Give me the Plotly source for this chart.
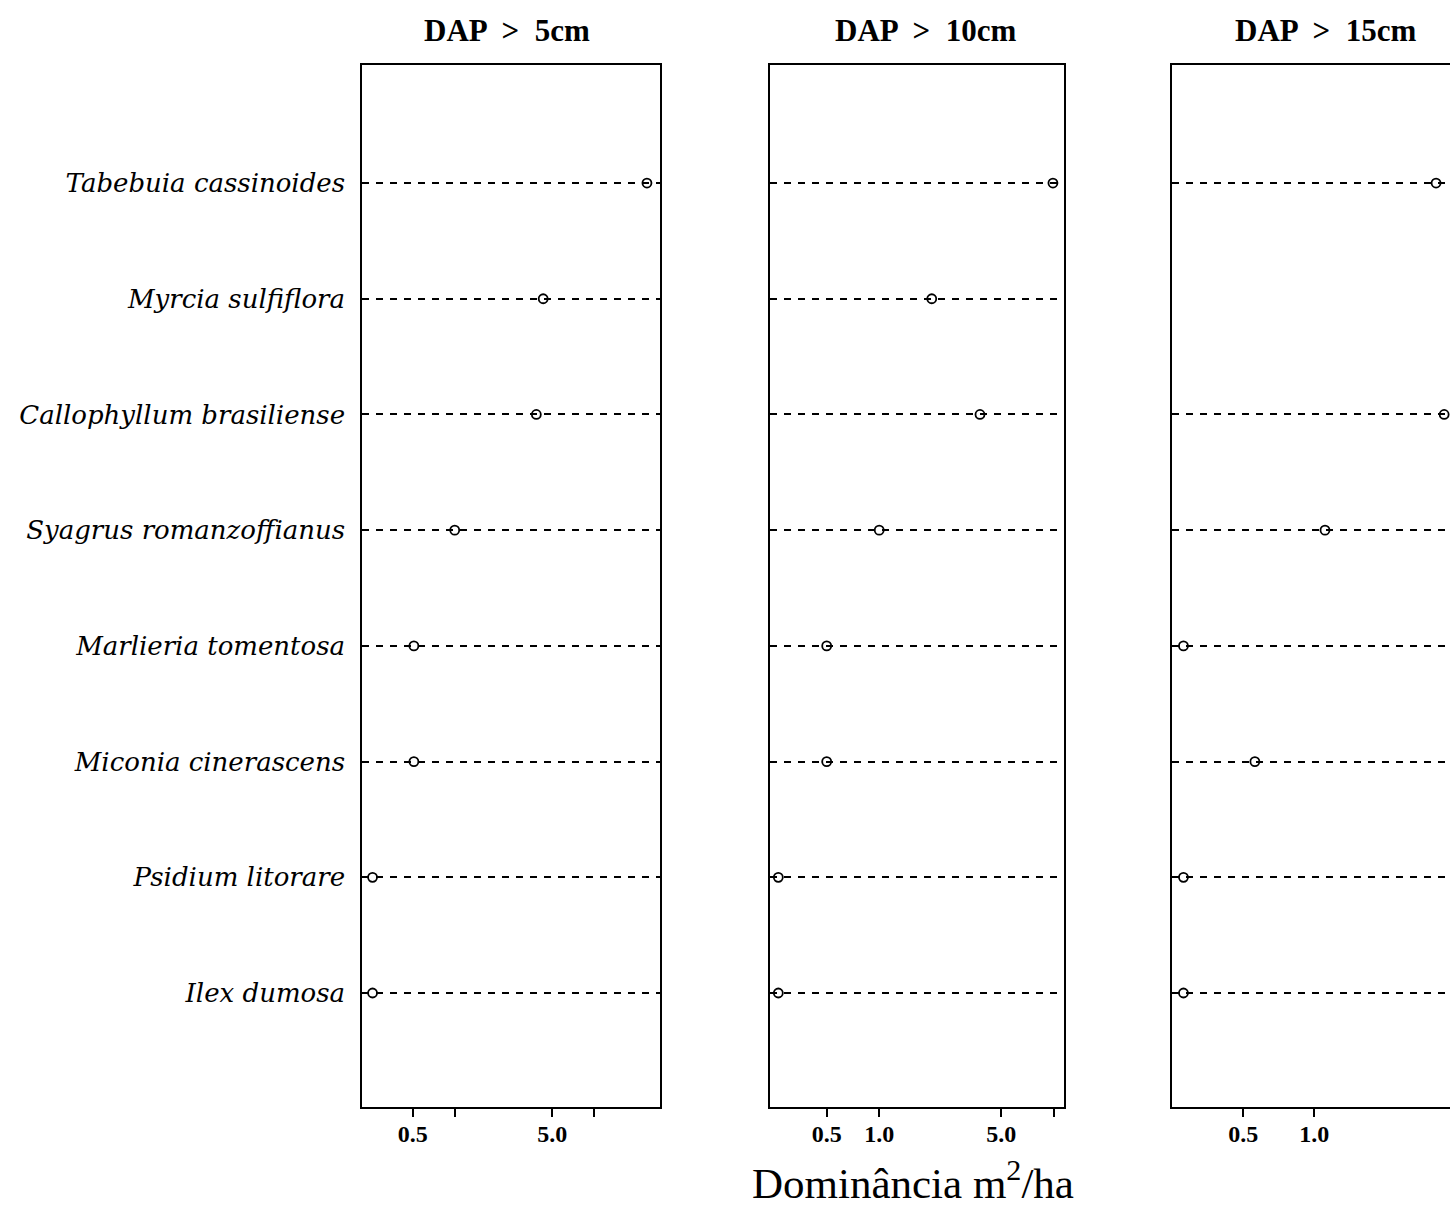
import plotly.graph_objects as go

species = ["Ilex dumosa", "Psidium litorare", "Miconia cinerascens", "Marlieria tomentosa",
           "Syagrus romanzoffianus", "Callophyllum brasiliense", "Myrcia sulfiflora",
           "Tabebuia cassinoides"]
dap5 = [0.258, 0.258, 0.51, 0.51, 1.0, 3.84, 4.3, 23.8]
dap10 = [0.264, 0.264, 0.50, 0.50, 1.0, 3.78, 2.0, 9.9]
dap15 = [0.279, 0.279, 0.56, 0.279, 1.11, 3.55, None, 3.28]
titles = ["DAP  &gt;  5cm", "DAP  &gt;  10cm", "DAP  &gt;  15cm"]
tickvals = [[0.5, 5], [0.5, 1, 5], [0.5, 1]]
ticktexts = [["0.5", "5.0"], ["0.5", "1.0", "5.0"], ["0.5", "1.0"]]
minorvals = [[1, 10], [10], []]
xtitle = "Dominância m<sup>2</sup>/ha"

W, H = 1450, 1227
panels_px = [(362, 660), (770, 1064), (1172, 1450)]
centers_px = [507, 925, 1325]
xranges = [[-0.664, 1.470], [-0.626, 1.059], [-0.603, 0.575]]
ytop, ybot = 65, 1107

fig = go.Figure()
series = [dap5, dap10, dap15]
ypos = list(range(1, len(species) + 1))
for i, vals in enumerate(series):
    xs = [v for v in vals if v is not None]
    ys = [y for y, v in zip(ypos, vals) if v is not None]
    sfx = "" if i == 0 else str(i + 1)
    fig.add_trace(go.Scatter(
        x=xs, y=ys, mode="markers", xaxis="x" + sfx, yaxis="y" + sfx,
        marker=dict(symbol="circle-open", size=9, color="black", line=dict(width=1.8, color="black")),
        showlegend=False, hoverinfo="x+y"))

layout = dict(width=W, height=H, margin=dict(l=0, r=0, t=0, b=0),
              paper_bgcolor="white", plot_bgcolor="white", showlegend=False)
ydom = [1 - ybot / H, 1 - ytop / H]
for i in range(3):
    sfx = "" if i == 0 else str(i + 1)
    x0, x1 = panels_px[i]
    vals = series[i]
    yt = [y for y, v in zip(ypos, vals) if v is not None]
    xa = dict(
        domain=[x0 / W, x1 / W], type="log", range=xranges[i], anchor="y" + sfx,
        tickvals=tickvals[i], ticktext=ticktexts[i], ticks="outside", ticklen=8,
        tickwidth=1.5, tickcolor="black", showline=True, linecolor="black", linewidth=1.5,
        mirror=True, showgrid=False, zeroline=False, ticklabelstandoff=-4,
        tickfont=dict(family="Liberation Serif", size=24, color="black", weight="bold"))
    if minorvals[i]:
        xa["minor"] = dict(tickvals=minorvals[i], ticks="outside", ticklen=8, tickwidth=1.5,
                           tickcolor="black", showgrid=False)
    layout["xaxis" + sfx] = xa
    ya = dict(
        domain=ydom, range=[0.015, 9.02], anchor="x" + sfx,
        tickvals=yt, showticklabels=(i == 0), ticks="", showline=True, linecolor="black",
        linewidth=1.5, mirror=(i < 2), showgrid=True, gridcolor="black", gridwidth=1.5,
        griddash="7px,7px", zeroline=False)
    if i == 0:
        ya.update(ticktext=[species[y - 1] for y in yt], ticklabelstandoff=10,
                  tickfont=dict(family="DejaVu Serif", size=26, color="black", style="italic"))
    layout["yaxis" + sfx] = ya
fig.update_layout(**layout)

for i in range(3):
    fig.add_annotation(x=centers_px[i] / W, y=1 - 30 / H, xref="paper", yref="paper",
                       text=titles[i], showarrow=False, xanchor="center", yanchor="middle",
                       font=dict(family="Liberation Serif", size=31, color="black", weight="bold"))
fig.add_annotation(x=913 / W, y=1 - 1180 / H, xref="paper", yref="paper", text=xtitle,
                   showarrow=False, xanchor="center", yanchor="middle",
                   font=dict(family="Liberation Serif", size=43, color="black"))

fig.write_html("out.html")
